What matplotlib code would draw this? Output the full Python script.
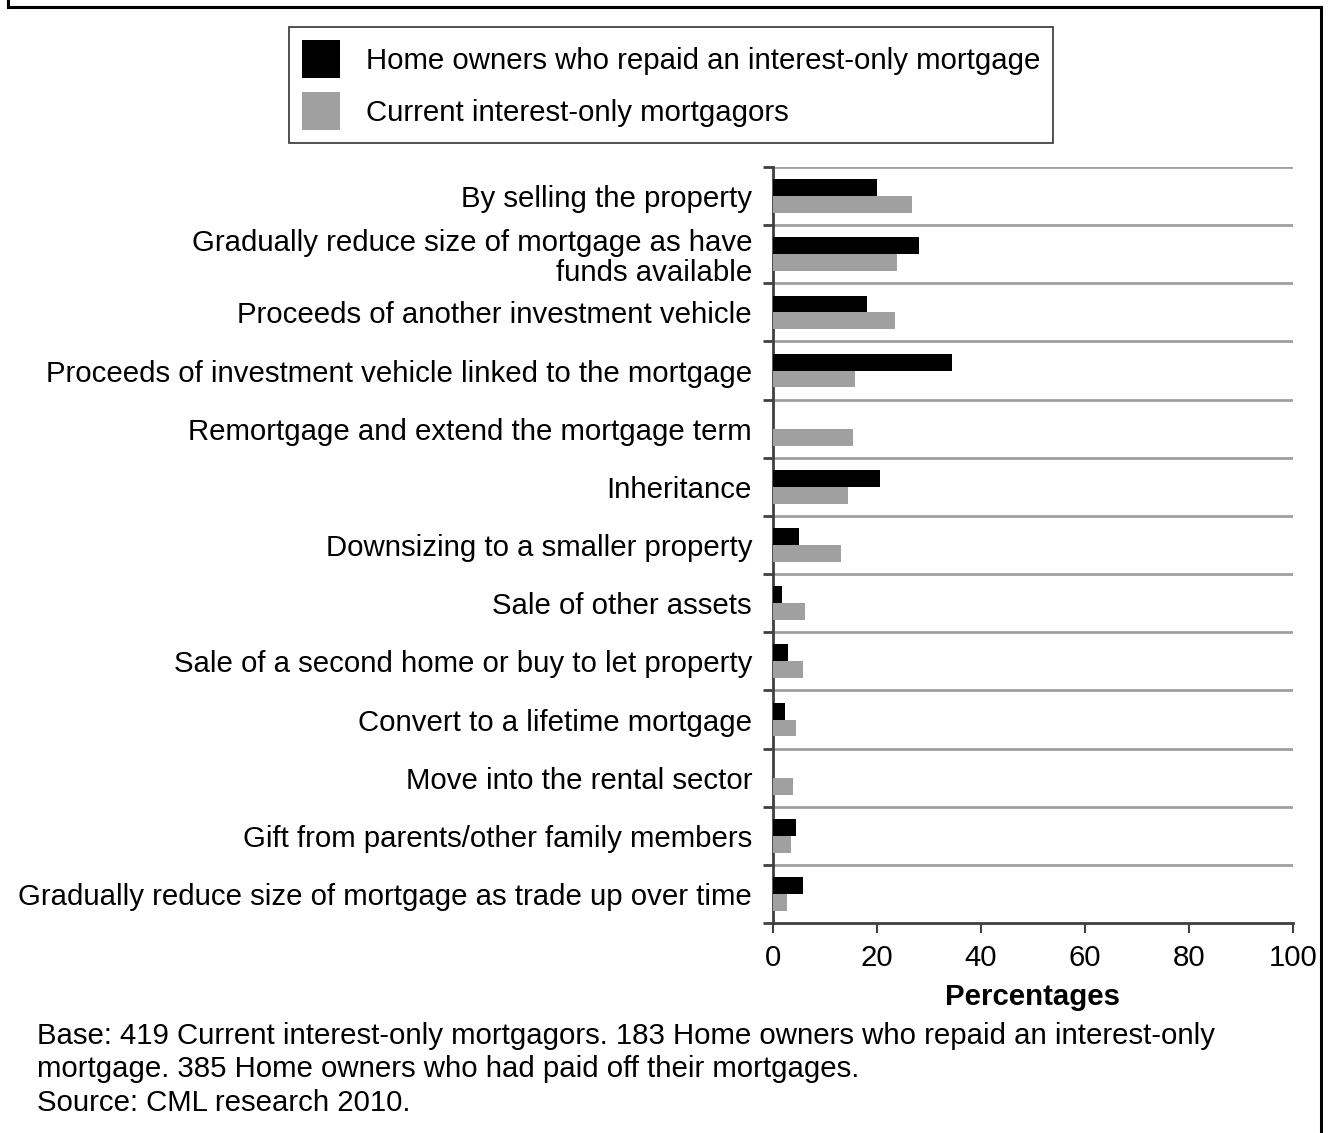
import numpy as np
import matplotlib.pyplot as plt
from matplotlib.patches import Patch
from matplotlib.lines import Line2D

plt.rcParams["font.family"] = ["Liberation Sans", "DejaVu Sans"]

categories = [
    "By selling the property",
    "Gradually reduce size of mortgage as have\nfunds available",
    "Proceeds of another investment vehicle",
    "Proceeds of investment vehicle linked to the mortgage",
    "Remortgage and extend the mortgage term",
    "Inheritance",
    "Downsizing to a smaller property",
    "Sale of other assets",
    "Sale of a second home or buy to let property",
    "Convert to a lifetime mortgage",
    "Move into the rental sector",
    "Gift from parents/other family members",
    "Gradually reduce size of mortgage as trade up over time",
]
repaid = [20.0, 28.0, 18.0, 34.4, 0.0, 20.6, 5.0, 1.7, 2.9, 2.3, 0.0, 4.4, 5.8]
current = [26.7, 23.8, 23.5, 15.8, 15.4, 14.4, 13.1, 6.2, 5.8, 4.4, 3.8, 3.5, 2.7]
x_ticks = [0, 20, 40, 60, 80, 100]

series_names = ["Home owners who repaid an interest-only mortgage",
                "Current interest-only mortgagors"]
footnote = ("Base: 419 Current interest-only mortgagors. 183 Home owners who repaid an interest-only\n"
            "mortgage. 385 Home owners who had paid off their mortgages.\n"
            "Source: CML research 2010.")

BLACK = "#000000"
GREY = "#a0a0a0"
FS = 21.2

fig = plt.figure(figsize=(13.29, 11.33), dpi=100)
ax = fig.add_axes([0.5816, 0.1853, 0.3913, 0.6673])

y = np.arange(len(categories))
h = 0.29
ax.barh(y - h / 2, repaid, height=h, color=BLACK, zorder=3)
ax.barh(y + h / 2, current, height=h, color=GREY, zorder=3)

ax.set_xlim(0, 100)
ax.set_ylim(len(categories) - 0.5, -0.5)

# category boundaries carry the gridlines and the y ticks
bounds = np.arange(len(categories) + 1) - 0.5
ax.set_yticks(bounds)
ax.set_yticklabels([])
ax.set_yticks(y, minor=True)
ax.set_yticklabels(categories, minor=True, fontsize=FS, linespacing=1.1)
ax.tick_params(axis="y", which="minor", length=0, pad=15)
ax.tick_params(axis="y", which="major", length=7, width=2, color="#404040")
for b in bounds[:-1]:
    ax.axhline(b, color=GREY, lw=2, zorder=1)

ax.set_xticks(x_ticks)
ax.tick_params(axis="x", labelsize=FS, length=7, width=1.5, color="#404040", pad=8)
ax.set_xlabel("Percentages", fontsize=FS, fontweight="bold", labelpad=8)

for s in ["top", "right"]:
    ax.spines[s].set_visible(False)
for s in ["left", "bottom"]:
    ax.spines[s].set_color("#404040")
    ax.spines[s].set_linewidth(2)

handles = [Patch(facecolor=BLACK, edgecolor="none"),
           Patch(facecolor=GREY, edgecolor="none")]
leg = fig.legend(handles, series_names, loc="upper left",
                 bbox_to_anchor=(289 / 1329, 1 - 27 / 1133),
                 fontsize=FS, frameon=True, fancybox=False, edgecolor="black",
                 handlelength=1.29, handleheight=1.61, handletextpad=0.88,
                 labelspacing=0.48, borderpad=0.44, borderaxespad=0)
leg.get_frame().set_linewidth(1.2)

fig.text(37 / 1329, 1 - 1022 / 1133, footnote, fontsize=FS, va="top",
         ha="left", linespacing=1.245)

# outer frame: left, top and right edges
for xs, ys in [([8, 8], [0, 7]), ([8, 1321], [7, 7]), ([1321, 1321], [7, 1133])]:
    fig.add_artist(Line2D([v / 1329 for v in xs], [1 - v / 1133 for v in ys],
                          color="black", lw=2.2))

fig.savefig("out.png", dpi=100)
